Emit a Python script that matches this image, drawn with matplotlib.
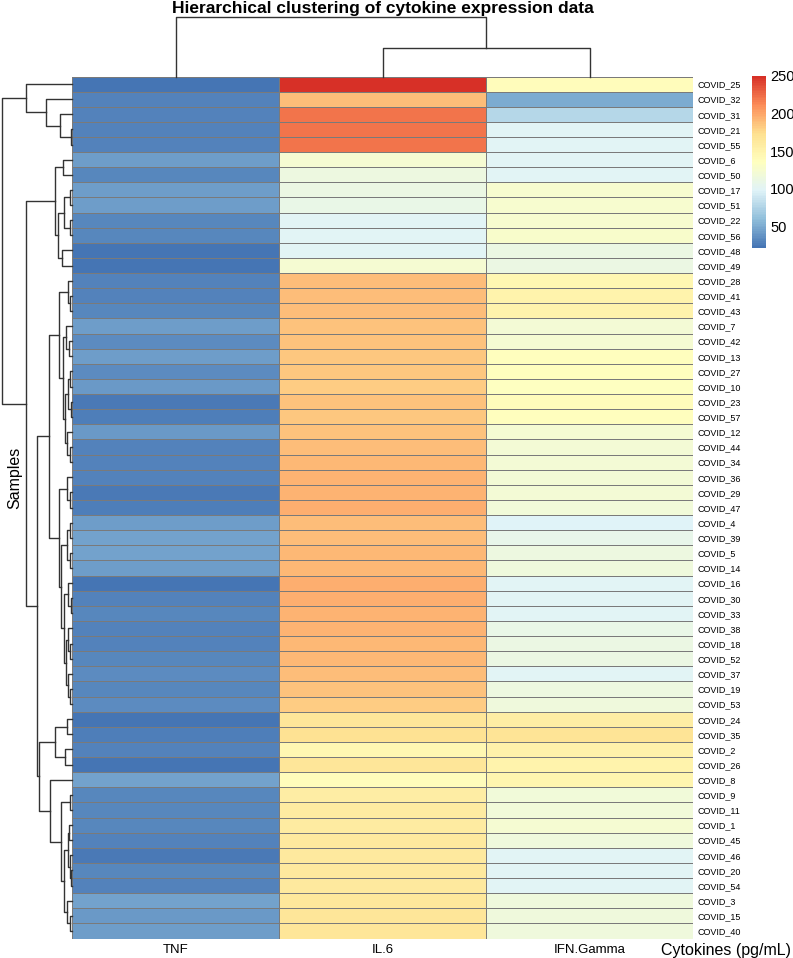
import numpy as np
import matplotlib
matplotlib.use('Agg')
import matplotlib.pyplot as plt
from matplotlib.colors import LinearSegmentedColormap

plt.rcParams['font.family'] = ['Liberation Sans', 'DejaVu Sans']

# ---- data (rows in clustered order) ----
samples = ['COVID_25', 'COVID_32', 'COVID_31', 'COVID_21', 'COVID_55', 'COVID_6',
           'COVID_50', 'COVID_17', 'COVID_51', 'COVID_22', 'COVID_56', 'COVID_48',
           'COVID_49', 'COVID_28', 'COVID_41', 'COVID_43', 'COVID_7', 'COVID_42',
           'COVID_13', 'COVID_27', 'COVID_10', 'COVID_23', 'COVID_57', 'COVID_12',
           'COVID_44', 'COVID_34', 'COVID_36', 'COVID_29', 'COVID_47', 'COVID_4',
           'COVID_39', 'COVID_5', 'COVID_14', 'COVID_16', 'COVID_30', 'COVID_33',
           'COVID_38', 'COVID_18', 'COVID_52', 'COVID_37', 'COVID_19', 'COVID_53',
           'COVID_24', 'COVID_35', 'COVID_2', 'COVID_26', 'COVID_8', 'COVID_9',
           'COVID_11', 'COVID_1', 'COVID_45', 'COVID_46', 'COVID_20', 'COVID_54',
           'COVID_3', 'COVID_15', 'COVID_40']
cytokines = ['TNF', 'IL.6', 'IFN.Gamma']

tnf = [23, 30, 30, 30, 30, 42, 32, 43, 43, 32, 32, 22, 22, 30, 30, 31, 42, 33, 42, 33,
       40, 25, 26, 41, 30, 30, 29, 24, 26, 42, 46, 44, 42, 22, 30, 31, 28, 29, 31, 33,
       32, 33, 23, 27, 30, 21, 45, 31, 31, 31, 30, 25, 31, 30, 44, 40, 42]
il6 = [250, 190, 221, 221, 221, 124, 114, 112, 110, 100, 99, 101, 124, 190, 190, 189,
       188, 186, 185, 184, 182, 186, 185, 188, 190, 191, 193, 195, 197, 190, 190, 192,
       192, 196, 196, 195, 193, 192, 191, 190, 187, 182, 166, 170, 145, 166, 140, 158,
       160, 160, 161, 161, 162, 162, 163, 166, 167]
ifn = [138, 50, 78, 99, 99, 100, 100, 125, 125, 126, 127, 112, 112, 145, 150, 150,
       120, 124, 136, 136, 134, 138, 137, 122, 121, 121, 120, 120, 119, 98, 106, 114,
       115, 99, 100, 100, 110, 111, 111, 100, 114, 115, 158, 168, 152, 150, 148, 118,
       118, 122, 116, 100, 101, 101, 117, 117, 117]

# dendrograms: (left, right, height); ints are row / column indices
row_tree = ((0, (1, (2, (3, 4, 1), 12), 26), 46),
            (((5, 6, 9), (((7, 8, 2), (9, 10, 2), 8), (11, 12, 10), 14), 17),
             ((((13, (14, 15, 2), 4),
                ((16, (17, 18, 3), 6),
                 (((19, 20, 2), (21, 22, 1), 4), (23, (24, 25, 2), 5), 7), 9), 13),
               ((26, (27, 28, 2), 5),
                (((29, 30, 2), (31, 32, 2), 5),
                 ((33, (34, 35, 1), 4),
                  ((36, (37, 38, 2), 4), (39, (40, 41, 2), 4), 6), 8), 11), 13), 23),
              (((42, 43, 5), (44, 45, 7), 17),
               (46, ((47, 48, 2),
                     (((49, 50, 3), (51, (52, 53, 1), 2), 4), (54, (55, 56, 2), 5), 8),
                     11), 22), 33), 35), 46), 70)
col_tree = (0, (1, 2, 29), 60)

# pheatmap default palette
pal = ['#4575B4', '#91BFDB', '#E0F3F8', '#FFFFBF', '#FEE090', '#FC8D59', '#D73027']
cmap = LinearSegmentedColormap.from_list('rdylbu', pal, N=100)

data = np.column_stack([tnf, il6, ifn])
n_rows = len(samples)

W, H = 793, 958
fig = plt.figure(figsize=(W / 100, H / 100), dpi=100)


def px_axes(x0, y0, x1, y1):
    # axes from pixel box (top-left origin)
    return fig.add_axes([x0 / W, 1 - y1 / H, (x1 - x0) / W, (y1 - y0) / H])


top, bottom = 76.5, 938.5
left, right = 72, 693

ax = px_axes(left, top, right, bottom)
mesh = ax.pcolormesh(data, cmap=cmap, vmin=data.min(), vmax=data.max(),
                     edgecolors='#7a7a7a', linewidth=0.55)
ax.set_xlim(0, 3)
ax.set_ylim(n_rows, 0)
ax.yaxis.tick_right()
ax.set_yticks(np.arange(n_rows) + 0.5)
ax.set_yticklabels(samples, fontsize=6.5)
ax.set_xticks(np.arange(3) + 0.5)
ax.set_xticklabels(cytokines, fontsize=9.5)
ax.tick_params(length=0, pad=3.5)
ax.tick_params(axis='x', pad=4)
for s in ax.spines.values():
    s.set_visible(False)


def draw_tree(a, node, side):
    if isinstance(node, int):
        return node + 0.5, 0
    l, r, h = node
    p1, h1 = draw_tree(a, l, side)
    p2, h2 = draw_tree(a, r, side)
    if side == 'left':
        a.plot([h1, h, h, h2], [p1, p1, p2, p2], color='#333333', lw=1, clip_on=False)
    else:
        a.plot([p1, p1, p2, p2], [h1, h, h, h2], color='#333333', lw=1, clip_on=False)
    return (p1 + p2) / 2, h


axl = px_axes(0, top, left, bottom)
draw_tree(axl, row_tree, 'left')
axl.set_xlim(left, 0)
axl.set_ylim(n_rows, 0)
axl.axis('off')

axt = px_axes(left, 0, right, top)
draw_tree(axt, col_tree, 'top')
axt.set_xlim(0, 3)
axt.set_ylim(0, top)
axt.axis('off')

cax = px_axes(752, 76, 766, 248)
cb = fig.colorbar(mesh, cax=cax, ticks=[50, 100, 150, 200, 250])
cb.outline.set_visible(False)
cax.tick_params(length=0, labelsize=10.5, pad=3)

fig.text(382.5 / W, 1 - 8 / H, 'Hierarchical clustering of cytokine expression data',
         ha='center', va='center', fontsize=12.5, fontweight='bold')
fig.text(15 / W, 1 - 478 / H, 'Samples', rotation=90, ha='center', va='center',
         fontsize=11.5)
fig.text(791 / W, 1 - 950 / H, 'Cytokines (pg/mL)', ha='right', va='center',
         fontsize=11.5)

fig.savefig('out.png', dpi=100)
